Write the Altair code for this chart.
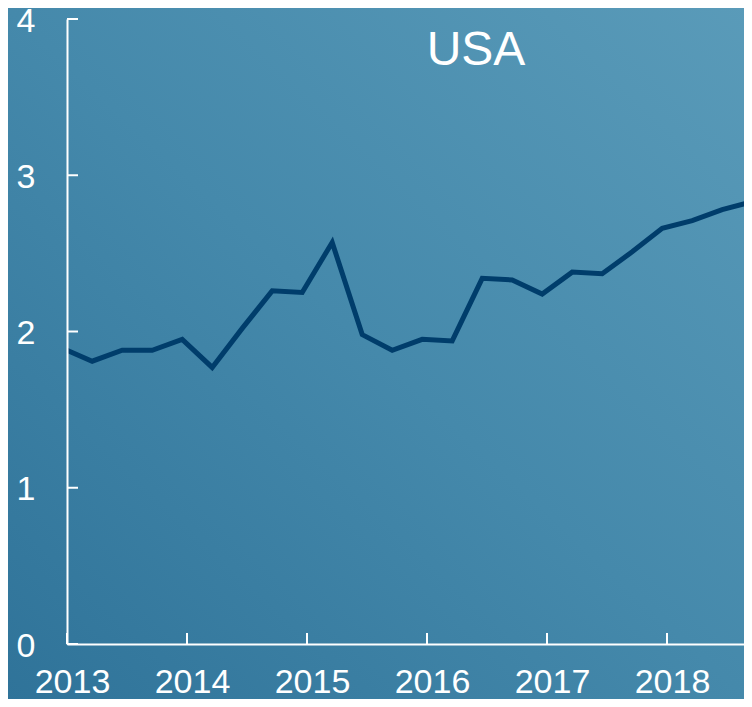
import altair as alt
import pandas as pd

years = [2013.0, 2013.21, 2013.46, 2013.71, 2013.96, 2014.21, 2014.46, 2014.71,
         2014.96, 2015.21, 2015.46, 2015.71, 2015.96, 2016.21, 2016.46, 2016.71,
         2016.96, 2017.21, 2017.46, 2017.71, 2017.96, 2018.21, 2018.46, 2018.71]
values = [1.88, 1.81, 1.88, 1.88, 1.95, 1.77, 2.02, 2.26,
          2.25, 2.57, 1.98, 1.88, 1.95, 1.94, 2.34, 2.33,
          2.24, 2.38, 2.37, 2.51, 2.66, 2.71, 2.78, 2.83]
x_ticks = [2013, 2014, 2015, 2016, 2017, 2018]
y_ticks = [0, 1, 2, 3, 4]
title_text = "USA"

W, H = 677, 625
FONT = "Liberation Sans"

xscale = alt.Scale(domain=[2013, 2013 + W / 120], nice=False, zero=False)
yscale = alt.Scale(domain=[0, 4], nice=False)
xaxis = alt.Axis(values=x_ticks, format="d", title=None, labelOffset=5,
                 labelPadding=21, labelFlush=False, labelFontSize=34, zindex=1)
yaxis = alt.Axis(values=y_ticks, format="d", title=None, labelOffset=2,
                 labelPadding=32, labelFlush=False, labelFontSize=34, zindex=1)

df = pd.DataFrame({"year": years, "value": values})

bg = alt.Chart(alt.Data(values=[{"a": 1}])).mark_rect(
    color=alt.LinearGradient(
        gradient="linear", x1=0, y1=1, x2=1, y2=0,
        stops=[alt.GradientStop(color="#2f7399", offset=0),
               alt.GradientStop(color="#4589ab", offset=0.5),
               alt.GradientStop(color="#5a9bb9", offset=1)]
    )
).encode(
    x=alt.value(-59), x2=alt.value(W + 10),
    y=alt.value(-11), y2=alt.value(H + 60)
)

line = alt.Chart(df).mark_line(color="#003d6b", strokeWidth=5, clip=True).encode(
    x=alt.X("year:Q", scale=xscale, axis=xaxis),
    y=alt.Y("value:Q", scale=yscale, axis=yaxis),
)

yt = alt.Chart(pd.DataFrame({"value": y_ticks})).mark_rule(color="white", strokeWidth=2).encode(
    y=alt.Y("value:Q", scale=yscale, axis=yaxis), x=alt.value(0), x2=alt.value(11)
)
xt = alt.Chart(pd.DataFrame({"year": x_ticks})).mark_rule(color="white", strokeWidth=2).encode(
    x=alt.X("year:Q", scale=xscale, axis=xaxis), y=alt.value(H), y2=alt.value(H - 11)
)

title = alt.Chart(alt.Data(values=[{"t": title_text}])).mark_text(
    color="white", font=FONT, fontSize=48, align="center", baseline="alphabetic"
).encode(x=alt.value(409), y=alt.value(46), text="t:N")

chart = alt.layer(bg, line, yt, xt, title).properties(
    width=W, height=H, autosize="none",
    padding={"left": 59, "top": 11, "right": 0, "bottom": 55},
    background="#3f83a6",
).configure_axis(
    domainColor="white", domainWidth=2, ticks=False, grid=False,
    labelColor="white", labelFont=FONT, labelFontSize=35,
).configure_view(strokeWidth=0)

chart.save("out.html", embed_options={"renderer": "svg", "actions": False})
